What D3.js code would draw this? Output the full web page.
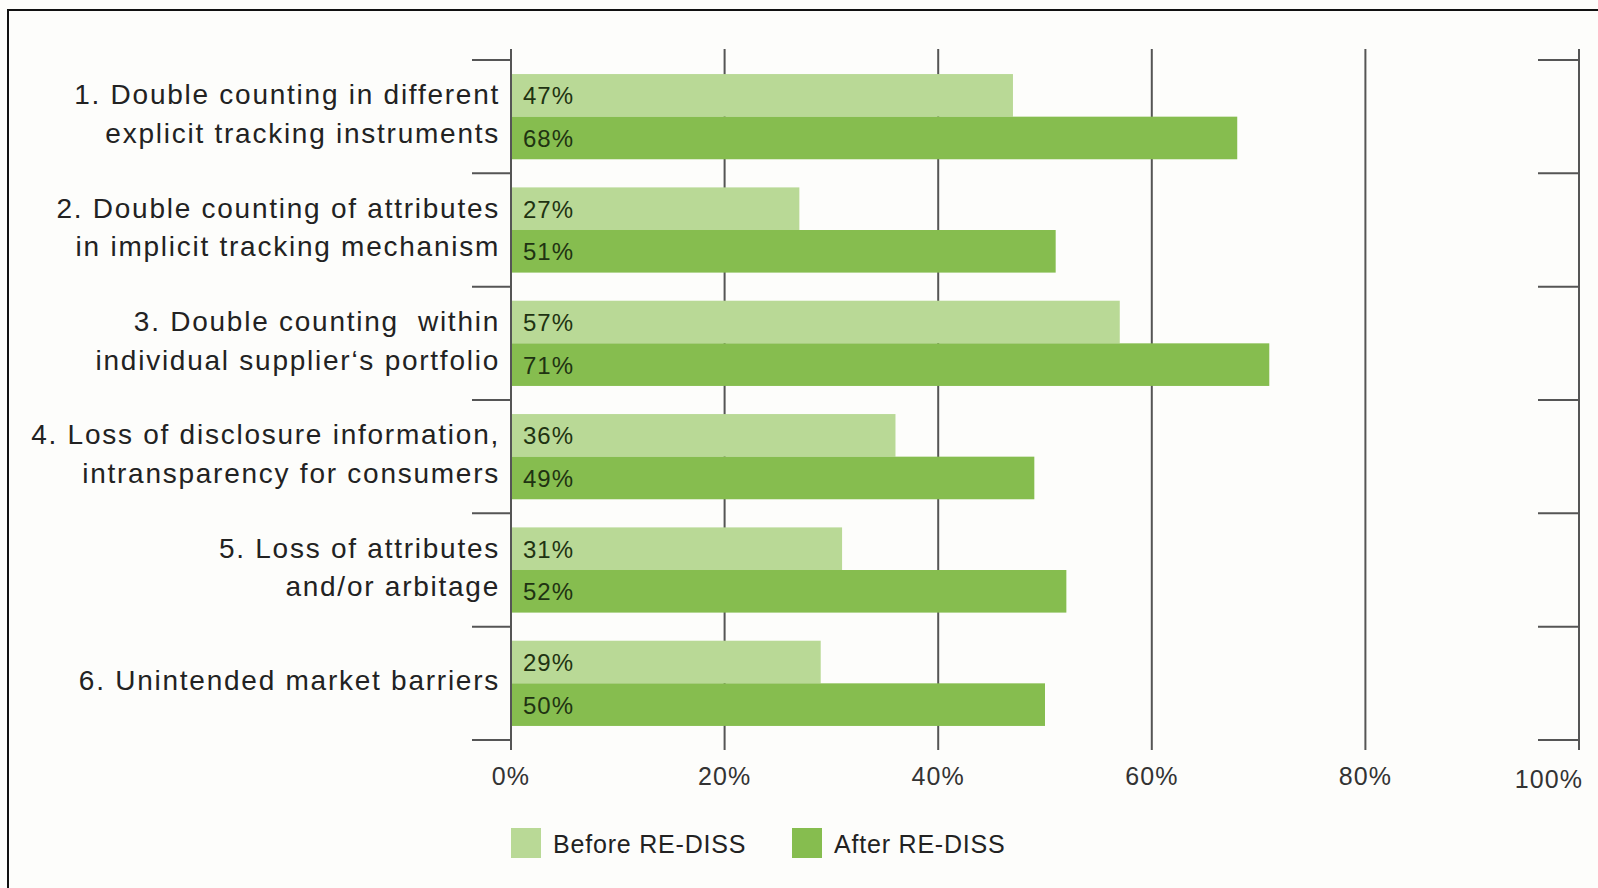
<!DOCTYPE html>
<html>
<head>
<meta charset="utf-8">
<script src="https://cdn.jsdelivr.net/npm/d3@7"></script>
<style>
  body { margin: 0; background: #fdfdfb; }
  svg text { font-family: "Liberation Sans", Arial, sans-serif; }
</style>
</head>
<body>
<div id="chart"></div>
<script>
var width = 1598, height = 888;

// data
var categories = [
  ["1. Double counting in different", "explicit tracking instruments"],
  ["2. Double counting of attributes", "in implicit tracking mechanism"],
  ["3. Double counting  within", "individual supplier\u2018s portfolio"],
  ["4. Loss of disclosure information,", "intransparency for consumers"],
  ["5. Loss of attributes", "and/or arbitage"],
  ["6. Unintended market barriers"]
];
var before = [47, 27, 57, 36, 31, 29];
var after = [68, 51, 71, 49, 52, 50];
var seriesNames = ["Before RE-DISS", "After RE-DISS"];
var tickValues = [0, 20, 40, 60, 80, 100];

var colors = ["#b9d996", "#86bd4f"];

var svg = d3.select("#chart").append("svg").attr("width", width).attr("height", height);

// frame
svg.append("rect")
    .attr("x", 8).attr("y", 10)
    .attr("width", width + 20).attr("height", height + 20)
    .attr("fill", "#fdfdfb")
    .attr("stroke", "#111")
    .attr("stroke-width", 2);

var x = d3.scaleLinear().domain([0, 100]).range([511, 1579]);
var y0 = d3.scaleBand().domain(d3.range(categories.length)).range([60, 740]);
var y1 = d3.scaleBand().domain([0, 1]).range([0, y0.bandwidth()]).paddingOuter(0.33);

var gridTop = 49, gridBottom = 750;

// gridlines (incl. axis at 0 and 100)
svg.append("g").selectAll("line")
  .data(tickValues)
  .enter().append("line")
    .attr("x1", function(d) { return x(d); })
    .attr("x2", function(d) { return x(d); })
    .attr("y1", gridTop)
    .attr("y2", gridBottom)
    .attr("stroke", "#555")
    .attr("stroke-width", 2);

// category separators on left and right
var bounds = d3.range(categories.length + 1).map(function(i) {
  return i < categories.length ? y0(i) : y0(i - 1) + y0.bandwidth();
});
var sep = svg.append("g");
sep.selectAll(".lt").data(bounds).enter().append("line")
    .attr("x1", x(0) - 39).attr("x2", x(0))
    .attr("y1", function(d) { return d; }).attr("y2", function(d) { return d; })
    .attr("stroke", "#555").attr("stroke-width", 2);
sep.selectAll(".rt").data(bounds).enter().append("line")
    .attr("x1", x(100) - 41).attr("x2", x(100))
    .attr("y1", function(d) { return d; }).attr("y2", function(d) { return d; })
    .attr("stroke", "#555").attr("stroke-width", 2);

// bars
var rows = categories.map(function(c, i) { return [before[i], after[i]]; });

var group = svg.append("g").selectAll("g")
  .data(rows)
  .enter().append("g")
    .attr("transform", function(d, i) { return "translate(0," + y0(i) + ")"; });

group.selectAll("rect")
  .data(function(d) { return d; })
  .enter().append("rect")
    .attr("x", x(0) + 1)
    .attr("y", function(d, j) { return y1(j); })
    .attr("width", function(d) { return x(d) - x(0) - 1; })
    .attr("height", y1.bandwidth())
    .attr("fill", function(d, j) { return colors[j]; });

group.selectAll("text")
  .data(function(d) { return d; })
  .enter().append("text")
    .attr("x", x(0) + 12)
    .attr("y", function(d, j) { return y1(j) + y1.bandwidth() / 2 + 9; })
    .attr("font-size", 24)
    .attr("letter-spacing", 1)
    .attr("fill", "#1f3312")
    .text(function(d) { return d + "%"; });

// category labels
var labels = svg.append("g").selectAll("text")
  .data(categories)
  .enter().append("text")
    .attr("text-anchor", "end")
    .attr("font-size", 28)
    .attr("letter-spacing", 1.75)
    .attr("fill", "#222")
    .style("white-space", "pre")
    .attr("transform", function(d, i) {
      return "translate(500," + (y0(i) + y0.bandwidth() / 2 + 7) + ")";
    });

labels.selectAll("tspan")
  .data(function(d) {
    return d.map(function(t, k) { return { t: t, k: k, n: d.length }; });
  })
  .enter().append("tspan")
    .attr("x", 0)
    .attr("y", function(d) { return (d.k - (d.n - 1) / 2) * 38.5; })
    .text(function(d) { return d.t; });

// x tick labels
svg.append("g").selectAll("text")
  .data(tickValues)
  .enter().append("text")
    .attr("x", function(d) { return d === 100 ? x(d) + 4 : x(d); })
    .attr("y", function(d) { return d === 100 ? 788 : 785; })
    .attr("text-anchor", function(d) { return d === 100 ? "end" : "middle"; })
    .attr("font-size", 25)
    .attr("letter-spacing", 1.1)
    .attr("fill", "#333")
    .text(function(d) { return d + "%"; });

// legend
var legendX = [511, 792];
var legend = svg.append("g").selectAll("g")
  .data(seriesNames)
  .enter().append("g")
    .attr("transform", function(d, i) { return "translate(" + legendX[i] + ",828)"; });

legend.append("rect")
    .attr("width", 30).attr("height", 30)
    .attr("fill", function(d, i) { return colors[i]; });

legend.append("text")
    .attr("x", 42).attr("y", 25)
    .attr("font-size", 25)
    .attr("letter-spacing", 0.8)
    .attr("fill", "#222")
    .text(function(d) { return d; });
</script>
</body>
</html>
